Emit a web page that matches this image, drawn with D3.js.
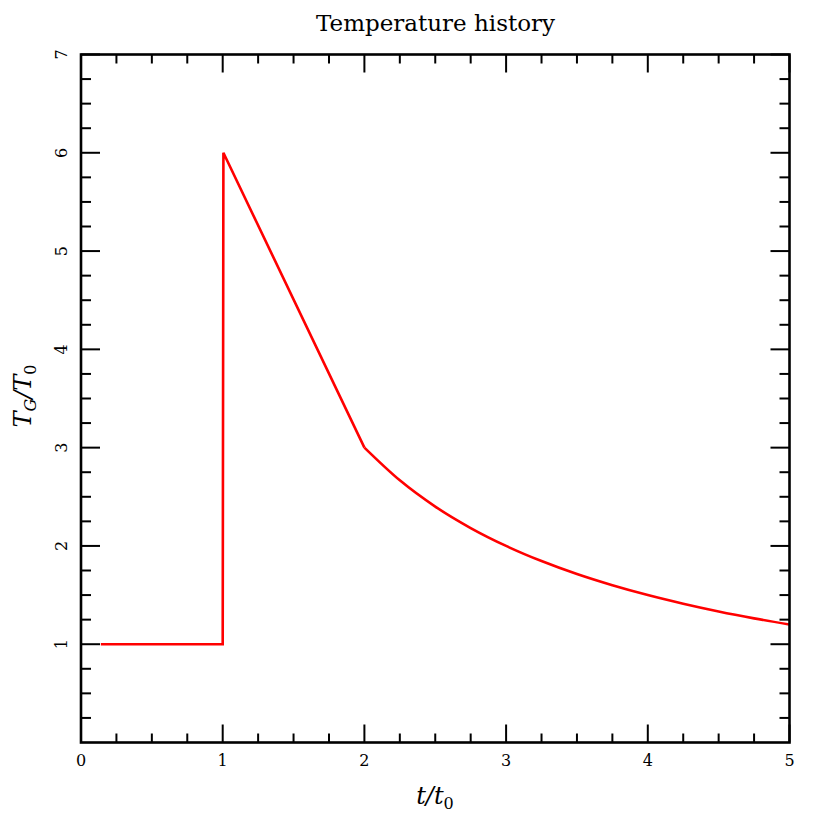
<!DOCTYPE html>
<html><head><meta charset="utf-8">
<script src="https://cdn.jsdelivr.net/npm/d3@7"></script>
<style>body{margin:0;background:#fff}svg{display:block}text{font-family:"DejaVu Serif","Liberation Serif",serif;fill:#000}</style>
</head><body>
<script>
const title = "Temperature history";
const xTicks = [0, 1, 2, 3, 4, 5];
const yTicks = [1, 2, 3, 4, 5, 6, 7];
// piecewise history: flat, jump, linear decay
const tSharp = [0.14, 1.0, 1.005, 2.0];
const TSharp = [1, 1, 6, 3];
// smooth tail
const tTail = [2.0, 2.25, 2.5, 2.75, 3.0, 3.25, 3.5, 3.75, 4.0, 4.25, 4.5, 4.75, 5.0];
const TTail = [3.0, 2.667, 2.4, 2.182, 2.0, 1.846, 1.714, 1.6, 1.5, 1.412, 1.333, 1.263, 1.2];

const W = 831, H = 831;
const m = {l: 81, r: 789.5, t: 54.5, b: 742.5};
const svg = d3.select("body").append("svg").attr("width", W).attr("height", H);
const x = d3.scaleLinear().domain([0, 5]).range([m.l, m.r]);
const y = d3.scaleLinear().domain([0, 7]).range([m.b, m.t]);

const minorX = d3.range(0, 5.001, 0.25).filter(v => Math.abs(v - Math.round(v)) > 1e-6);
const minorY = d3.range(0, 7.001, 0.25).filter(v => Math.abs(v - Math.round(v)) > 1e-6);

const g = svg.append("g");
const line = d3.line().x(d => x(d[0])).y(d => y(d[1]));
g.append("path").datum(tSharp.map((t, i) => [t, TSharp[i]]))
  .attr("d", line).attr("fill", "none").attr("stroke", "#ff0000").attr("stroke-width", 2.6).attr("stroke-linejoin", "miter");
g.append("path").datum(tTail.map((t, i) => [t, TTail[i]]))
  .attr("d", line.curve(d3.curveMonotoneX)).attr("fill", "none").attr("stroke", "#ff0000").attr("stroke-width", 2.6);

const tk = svg.append("g").attr("stroke", "#000").attr("stroke-width", 2);
function xt(vals, len) {
  vals.forEach(v => {
    tk.append("line").attr("x1", x(v)).attr("x2", x(v)).attr("y1", m.b).attr("y2", m.b - len);
    tk.append("line").attr("x1", x(v)).attr("x2", x(v)).attr("y1", m.t).attr("y2", m.t + len);
  });
}
function yt(vals, len) {
  vals.forEach(v => {
    tk.append("line").attr("y1", y(v)).attr("y2", y(v)).attr("x1", m.l).attr("x2", m.l + len);
    tk.append("line").attr("y1", y(v)).attr("y2", y(v)).attr("x1", m.r).attr("x2", m.r - len);
  });
}
xt(xTicks, 18); xt(minorX, 9);
yt(yTicks, 19); yt(minorY, 10);

svg.append("rect").attr("x", m.l).attr("y", m.t).attr("width", m.r - m.l).attr("height", m.b - m.t)
  .attr("fill", "none").attr("stroke", "#000").attr("stroke-width", 2.6);

svg.append("g").selectAll("text").data(xTicks).join("text")
  .attr("x", d => x(d)).attr("y", 766).attr("text-anchor", "middle")
  .attr("font-size", 16).text(d => d);
svg.append("g").selectAll("text").data(yTicks).join("text")
  .attr("transform", d => `translate(67,${y(d)}) rotate(-90)`).attr("text-anchor", "middle")
  .attr("font-size", 16).text(d => d);

svg.append("text").attr("x", 435.5).attr("y", 31).attr("text-anchor", "middle")
  .attr("font-size", 23).text(title);

const xl = svg.append("text").attr("x", 435).attr("y", 804).attr("text-anchor", "middle").attr("font-size", 24);
xl.append("tspan").attr("font-style", "italic").text("t/t");
xl.append("tspan").attr("font-size", 16).attr("dy", 5).text("0");

const yl = svg.append("text").attr("transform", "translate(31,396) rotate(-90)").attr("text-anchor", "middle").attr("font-size", 24);
yl.append("tspan").attr("font-style", "italic").text("T");
yl.append("tspan").attr("font-style", "italic").attr("font-size", 16).attr("dy", 5).text("G");
yl.append("tspan").attr("font-style", "italic").attr("dy", -5).text("/T");
yl.append("tspan").attr("font-size", 16).attr("dy", 5).text("0");
</script>
</body></html>
